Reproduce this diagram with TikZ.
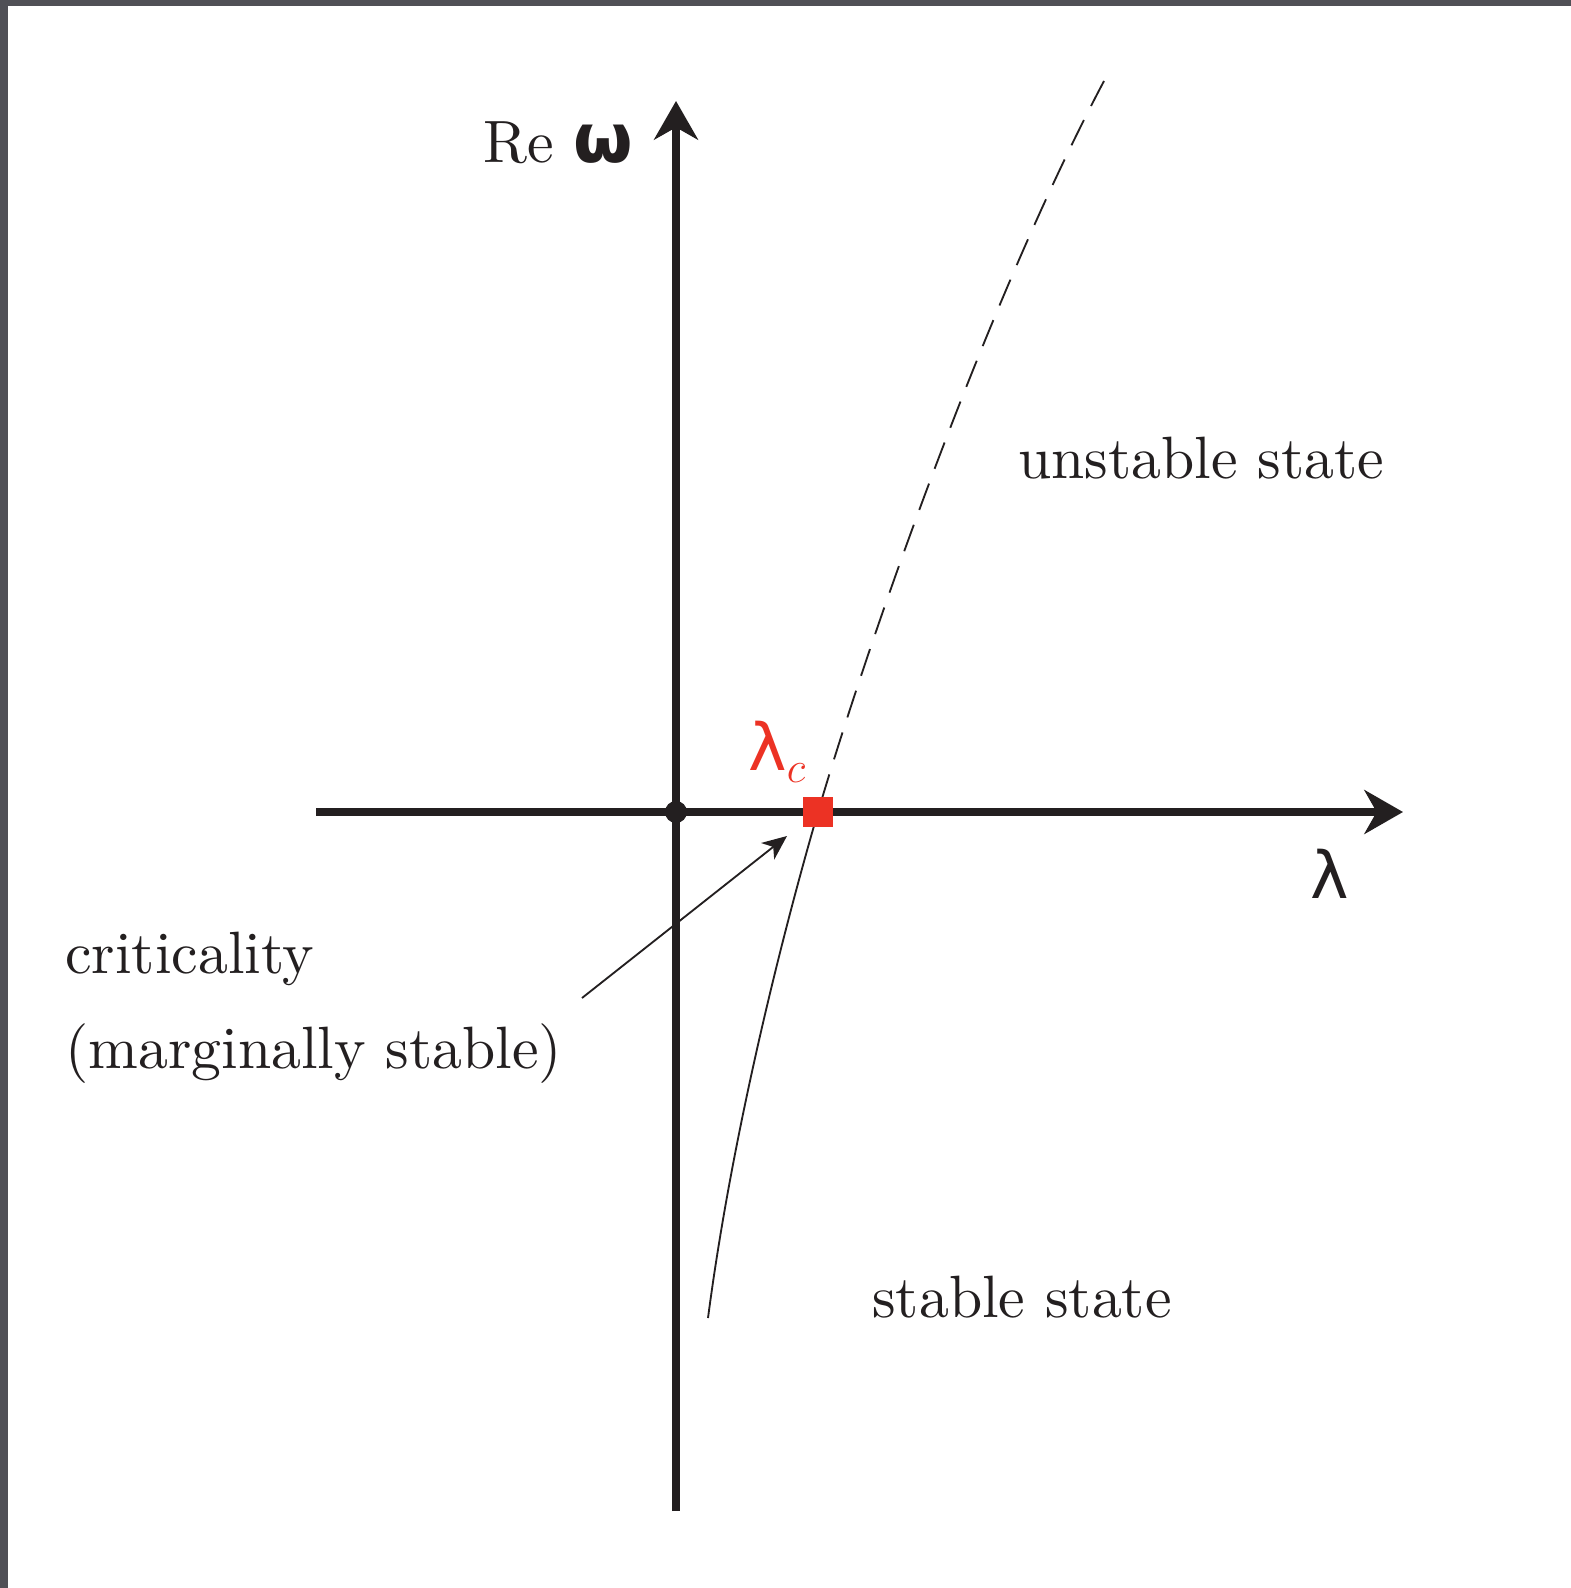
\documentclass[tikz,border=0pt]{standalone}
\usepackage{fontspec}
\setmainfont{lmroman10-regular.otf}
\newfontfamily\greeksans{DejaVu Sans}
\usetikzlibrary{arrows.meta,positioning}
\definecolor{inkblack}{RGB}{35,31,32}
\definecolor{critred}{RGB}{236,50,36}
\definecolor{framegray}{RGB}{80,80,86}
\tikzset{
  axisline/.style={line width=4.2pt,draw=inkblack,-{Stealth[length=22pt,width=25pt,inset=7pt]}},
  branch/.style={line width=1.05pt,draw=inkblack},
  pointer/.style={line width=1.05pt,draw=inkblack,-{Stealth[length=14pt,width=12pt,inset=4pt]}},
  txt/.style={inner sep=0pt,text=inkblack,font=\fontsize{34}{40}\selectfont},
  greek/.style={inner sep=0pt,font=\fontsize{37}{40}\selectfont\greeksans},
  origdot/.style={circle,fill=inkblack,minimum size=12.5pt,inner sep=0pt},
  critbox/.style={rectangle,fill=critred,minimum size=17pt,inner sep=0pt}
}

\begin{document}
\begin{tikzpicture}[x=0.02cm,y=-0.02cm]
  \useasboundingbox (0,0) rectangle (1571,1588);
  \fill[framegray] (0,0) rectangle (1571,1588);
  \fill[white] (8,6) rectangle (1571,1588);

  % axes
  \coordinate (xs) at (316,812);
  \coordinate (xe) at (1403,812);
  \coordinate (ys) at (676,1511);
  \coordinate (ye) at (676,101);
  \draw[axisline] (xs)--(xe);
  \draw[axisline] (ys)--(ye);
  \node[origdot] (o) at (676,812) {};

  % stable and unstable branches
  \coordinate (crit) at (818,812);
  \coordinate (top) at (1104,81);
  \coordinate (bot) at (708,1318);
  \draw[branch,dash pattern=on 16pt off 9pt] (top) .. controls (986,304) and (868,642) .. (crit);
  \draw[branch] (crit) .. controls (775,960) and (730,1150) .. (bot);
  \node[critbox] (lc) at (crit) {};

  % labels
  \node[txt,anchor=base west] (rew) at (483,163)
    {Re {\fontsize{39}{40}\selectfont\greeksans\bfseries ω}};
  \node[greek,text=inkblack,anchor=base] (lam) at (1330,898) {λ};
  \node[greek,text=critred,anchor=base west] (lamc) at (748,770)
    {λ\raisebox{-7pt}{\fontsize{30}{30}\selectfont$c$}};
  \node[txt,anchor=base west] (unst) at (1018,478) {unstable state};
  \node[txt,anchor=base west] (stab) at (872,1317) {stable state};
  \node[txt,anchor=base west] (crt) at (65,973) {criticality};
  \node[txt,anchor=base west] (marg) at (65,1068) {(marginally stable)};

  % pointer to the critical point
  \coordinate (ptail) at (582,998);
  \coordinate (ptip) at (787,836);
  \draw[pointer] (ptail)--(ptip);
\end{tikzpicture}
\end{document}
